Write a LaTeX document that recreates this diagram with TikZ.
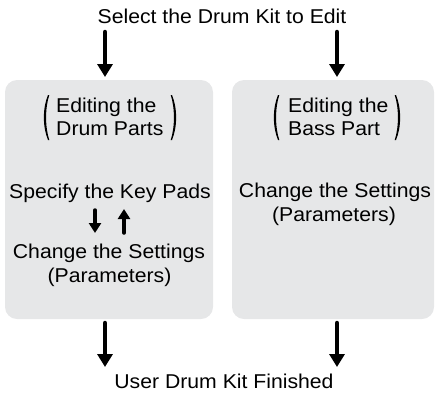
\documentclass[tikz,border=0pt]{standalone}
\usepackage{fontspec}
\setmainfont{Liberation Sans}[FakeStretch=1.06]
\usetikzlibrary{arrows.meta}
\definecolor{boxgray}{HTML}{E6E7E8}
\begin{document}
\begin{tikzpicture}[x=1pt,y=-1pt,
  lbl/.style={inner sep=0pt,font=\fontsize{20}{23.5}\selectfont},
  panel/.style={fill=boxgray,draw=none,rounded corners=12pt},
  bigarrow/.style={line width=4.5pt,line cap=round,-{Triangle[length=13pt,width=15pt]}},
  smallarrow/.style={line width=3.5pt,line cap=round,-{Triangle[length=10pt,width=12pt]}},
  parenfill/.style={fill=black,draw=none}]
\useasboundingbox (0,0) rectangle (436,392);
% panels
\fill[panel] (5,80) rectangle (213,319);
\fill[panel] (232,80) rectangle (434,319);
% title and end
\node[lbl,anchor=base] (title) at (222,23) {Select the Drum Kit to Edit};
\node[lbl,anchor=base] (finish) at (224,388) {User Drum Kit Finished};
% connectors
\coordinate (t1) at (105,32); \coordinate (h1) at (105,77);
\coordinate (t2) at (337,32); \coordinate (h2) at (337,77);
\coordinate (b1) at (105,323); \coordinate (e1) at (105,367);
\coordinate (b2) at (337,323); \coordinate (e2) at (337,367);
\draw[bigarrow] (t1) -- (h1);
\draw[bigarrow] (t2) -- (h2);
\draw[bigarrow] (b1) -- (e1);
\draw[bigarrow] (b2) -- (e2);
% left panel
\node[lbl,anchor=base west] (ed1) at (56,112) {Editing the};
\node[lbl,anchor=base west] (dp) at (56,135) {Drum Parts};
\fill[parenfill] (48,95) .. controls (42.5,108) and (42.5,127) .. (48,140)
  -- (49.3,140) .. controls (45,127) and (45,108) .. (49.3,95) -- cycle;
\fill[parenfill] (172,95) .. controls (177.5,108) and (177.5,127) .. (172,140)
  -- (170.7,140) .. controls (175,127) and (175,108) .. (170.7,95) -- cycle;
\node[lbl,anchor=base] (kp) at (110,198) {Specify the Key Pads};
\coordinate (s1) at (95,210); \coordinate (s1e) at (95,233);
\coordinate (s2) at (124,233); \coordinate (s2e) at (124,209);
\draw[smallarrow] (s1) -- (s1e);
\draw[smallarrow] (s2) -- (s2e);
\node[lbl,anchor=base] (cs1) at (109,258) {Change the Settings};
\node[lbl,anchor=base] (pa1) at (109.5,282) {(Parameters)};
% right panel
\node[lbl,anchor=base west] (ed2) at (288,112) {Editing the};
\node[lbl,anchor=base west] (bp) at (288,135) {Bass Part};
\fill[parenfill] (278,95) .. controls (272.5,108) and (272.5,127) .. (278,140)
  -- (279.3,140) .. controls (275,127) and (275,108) .. (279.3,95) -- cycle;
\fill[parenfill] (396,95) .. controls (401.5,108) and (401.5,127) .. (396,140)
  -- (394.7,140) .. controls (399,127) and (399,108) .. (394.7,95) -- cycle;
\node[lbl,anchor=base] (cs2) at (335,197) {Change the Settings};
\node[lbl,anchor=base] (pa2) at (334,221) {(Parameters)};
\end{tikzpicture}
\end{document}
